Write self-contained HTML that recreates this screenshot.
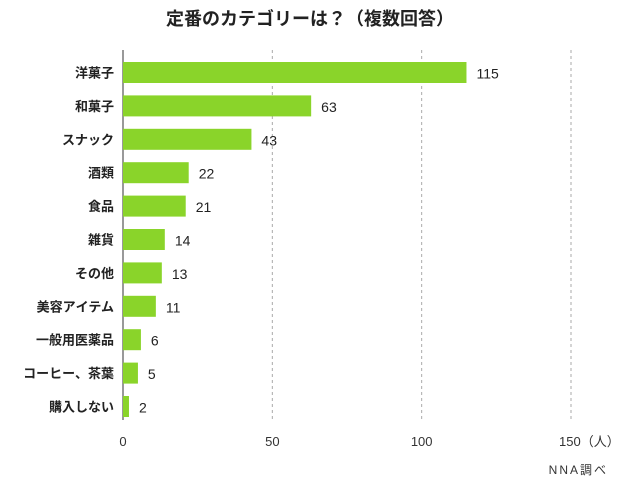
<!DOCTYPE html>
<html><head><meta charset="utf-8">
<style>
body{margin:0;background:#fff;font-family:"Liberation Sans","Noto Sans CJK JP",sans-serif;}
svg text{font-family:"Liberation Sans","Noto Sans CJK JP",sans-serif;}
</style></head>
<body>
<svg id="chart" width="620" height="482" xmlns="http://www.w3.org/2000/svg">
<text x="310" y="25" text-anchor="middle" font-size="18" font-weight="bold" fill="#222">定番のカテゴリーは？（複数回答）</text>
<g id="grid"></g>
<g id="bars"></g>
<g id="labels"></g>
<text x="608" y="474" text-anchor="end" font-size="12" fill="#333" letter-spacing="2">NNA調べ</text>
</svg>
<script>
const categories=["洋菓子","和菓子","スナック","酒類","食品","雑貨","その他","美容アイテム","一般用医薬品","コーヒー、茶葉","購入しない"];
const values=[115,63,43,22,21,14,13,11,6,5,2];
const ticks=[0,50,100,150];
const tickLabels=["0","50","100","150（人）"];
const NS="http://www.w3.org/2000/svg";
const x0=123,x1=571,maxV=150,yTop=50,yBot=420,rowH=33.4,firstC=72.5,barH=21;
const xs=v=>x0+(x1-x0)*v/maxV;
const yc=i=>firstC+i*rowH;
function mk(tag,attrs,parent){const e=document.createElementNS(NS,tag);for(const k in attrs)e.setAttribute(k,attrs[k]);parent.appendChild(e);return e;}
const grid=document.getElementById('grid'),bars=document.getElementById('bars'),labels=document.getElementById('labels');
ticks.forEach((t,i)=>{
  const l=mk('line',{x1:xs(t),x2:xs(t),y1:yTop,y2:yBot,stroke:i===0?'#333':'#aaa','stroke-width':1,'stroke-dasharray':i===0?'':'3,3'},grid);
  
  
  const tx=mk('text',{x:xs(t),y:446,'font-size':13,fill:'#333','text-anchor':i===ticks.length-1?'start':'middle'},grid);
  if(i===ticks.length-1)tx.setAttribute('x',xs(t)-12);
  tx.textContent=tickLabels[i];
  
  
});
categories.forEach((c,i)=>{
  const r=mk('rect',{x:x0,y:yc(i)-barH/2,width:xs(values[i])-x0,height:barH,fill:'#8ad42a'},bars);
  
  
  const cl=mk('text',{x:114,y:yc(i)+5,'font-size':13,'font-weight':'bold',fill:'#222','text-anchor':'end'},labels);
  cl.textContent=c;
  
  
  const vl=mk('text',{x:xs(values[i])+10,y:yc(i)+6,'font-size':14,fill:'#222'},labels);
  vl.textContent=values[i];
  
  
});
</script>
</body></html>
